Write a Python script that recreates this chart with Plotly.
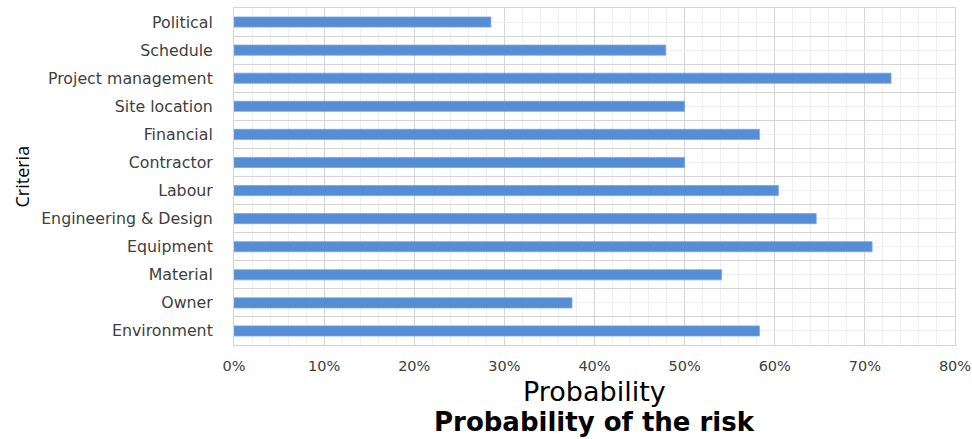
import plotly.graph_objects as go

# Risk criteria (bottom to top) and their probability of occurrence
criteria = [
    "Environment", "Owner", "Material", "Equipment", "Engineering & Design",
    "Labour", "Contractor", "Financial", "Site location",
    "Project management", "Schedule", "Political",
]
probability = [
    0.583, 0.375, 0.541, 0.708, 0.646,
    0.604, 0.500, 0.583, 0.500,
    0.729, 0.479, 0.285,
]
x_ticks = [0, 0.1, 0.2, 0.3, 0.4, 0.5, 0.6, 0.7, 0.8]
x_tick_text = ["0%", "10%", "20%", "30%", "40%", "50%", "60%", "70%", "80%"]

W, H = 972, 439
L, R, T, B = 234, 17, 8, 94
plot_w = W - L - R
plot_h = H - T - B

FONT = "DejaVu Sans"
BAR = "rgb(85,142,213)"
MAJOR = "#D4D4D4"
MINOR = "#EFEFEF"
TEXT = "#404040"

fig = go.Figure()
fig.add_trace(go.Bar(
    y=criteria, x=probability, orientation="h",
    marker=dict(color=BAR, line=dict(color="rgb(120,165,225)", width=0.8)),
    width=0.36,
    hovertemplate="%{y}: %{x:.1%}<extra></extra>",
))
# invisible trace on a companion linear axis, used for the light centre gridlines
fig.add_trace(go.Scatter(
    x=[None], y=[None], yaxis="y2", showlegend=False, hoverinfo="skip",
))

fig.update_layout(
    width=W, height=H,
    margin=dict(l=L, r=R, t=T, b=B, pad=0, autoexpand=False),
    paper_bgcolor="white", plot_bgcolor="white",
    showlegend=False,
    font=dict(family=FONT, color=TEXT, size=14),
    xaxis=dict(
        range=[0, 0.8], tickvals=x_ticks, ticktext=x_tick_text,
        showgrid=True, gridcolor=MAJOR, gridwidth=1,
        minor=dict(dtick=0.02, showgrid=True, gridcolor=MINOR, gridwidth=1),
        zeroline=False, showline=True, linecolor=MAJOR, mirror=True,
        ticks="", ticklabelstandoff=8, automargin=False,
        tickfont=dict(family=FONT, size=14.5, color=TEXT),
        fixedrange=True,
    ),
    yaxis=dict(
        type="category", categoryorder="array", categoryarray=criteria,
        range=[-0.5, len(criteria) - 0.5],
        tickson="boundaries", showgrid=True, gridcolor=MAJOR, gridwidth=1,
        showline=True, linecolor=MAJOR, mirror=True, ticks="",
        ticklabelstandoff=17, automargin=False,
        tickfont=dict(family=FONT, size=15.8, color=TEXT),
        fixedrange=True,
    ),
    yaxis2=dict(
        overlaying="y", range=[-0.5, len(criteria) - 0.5],
        tick0=0, dtick=1, showgrid=True, gridcolor=MINOR, gridwidth=1,
        showticklabels=False, zeroline=False, showline=False, ticks="",
        automargin=False, fixedrange=True,
    ),
    annotations=[
        dict(text="Criteria", textangle=-90, xref="paper", yref="paper",
             x=(21 - L) / plot_w, y=0.5, xanchor="center", yanchor="middle",
             showarrow=False, font=dict(family="Open Sans", size=18, color="#000000")),
        dict(text="Probability", xref="paper", yref="paper",
             x=0.5, y=-(391 - (T + plot_h)) / plot_h, xanchor="center", yanchor="middle",
             showarrow=False, font=dict(family=FONT, size=27, color="#000000")),
        dict(text="<b>Probability of the risk</b>", xref="paper", yref="paper",
             x=0.5, y=-(422 - (T + plot_h)) / plot_h, xanchor="center", yanchor="middle",
             showarrow=False, font=dict(family=FONT, size=26, color="#000000")),
    ],
)

fig.write_html("out.html")
